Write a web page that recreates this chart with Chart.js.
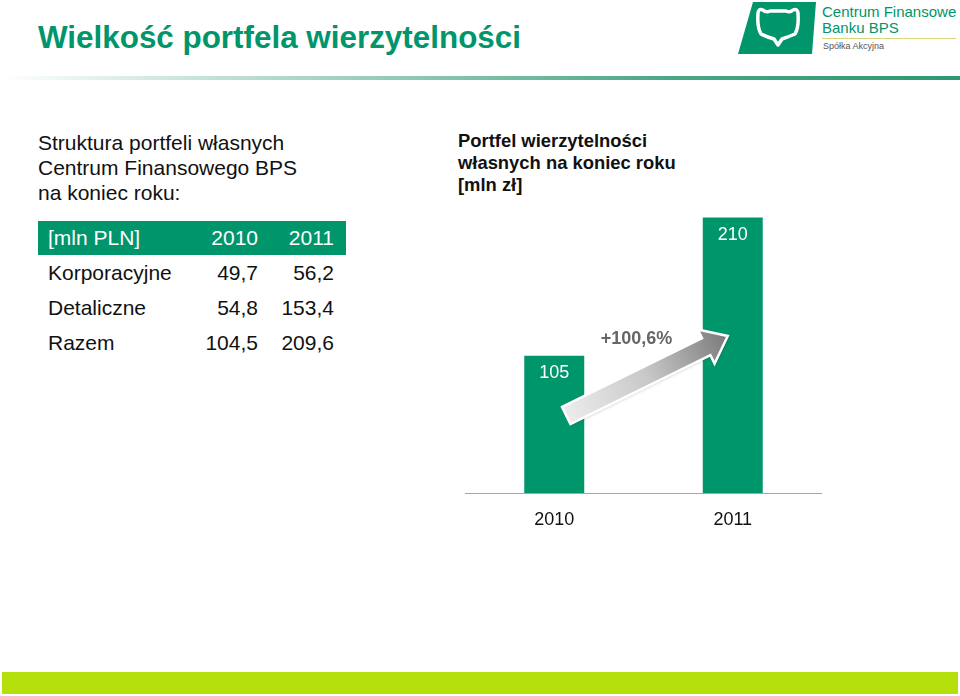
<!DOCTYPE html>
<html>
<head>
<meta charset="utf-8">
<script src="https://cdn.jsdelivr.net/npm/chart.js@4/dist/chart.umd.min.js"></script>
<style>
  body { margin: 0; width: 960px; height: 696px; background: #fff; position: relative; overflow: hidden;
         font-family: "Liberation Sans", Arial, sans-serif; }
  .abs { position: absolute; }
  #title { left: 38px; top: 20px; font-size: 31.4px; font-weight: bold; color: #00956b; white-space: nowrap; }
  #rule { left: 0; top: 76px; width: 960px; height: 4px;
          background: linear-gradient(to right, rgba(255,255,255,0) 0%, #c8e4d8 20%, #4aa784 70%, #2c9870 100%); }
  #intro { left: 38px; top: 130px; font-size: 21px; line-height: 25px; color: #111; }
  #chartTitle { left: 458px; top: 130px; font-size: 18.4px; line-height: 22px; font-weight: bold; color: #111; }
  table { left: 38px; top: 221px; border-collapse: collapse; font-size: 21px; color: #111; }
  th { background: #00956b; color: #fff; font-weight: normal; height: 34px; padding: 0; }
  td { height: 35px; padding: 0; }
  .c0 { width: 150px; text-align: left; padding-left: 10px; }
  .c1 { width: 60px; text-align: right; }
  .c2 { width: 76px; text-align: right; padding-right: 12px; }
  #chartWrap { left: 465px; top: 200px; }
  #bottomBar { left: 2px; top: 672px; width: 956px; height: 22px; background: #b4df0a; }
  #logoText1 { left: 822px; top: 4px; font-size: 15px; line-height: 16px; color: #00956b; white-space: nowrap; }
  #logoRule { left: 822px; top: 38px; width: 134px; height: 1px; background: #d6d67a; }
  #logoText2 { left: 823px; top: 41px; font-size: 9px; color: #555; }
</style>
</head>
<body>
<div id="title" class="abs">Wielkość portfela wierzytelności</div>
<div id="rule" class="abs"></div>

<svg class="abs" style="left:736px;top:0px" width="84" height="56">
  <polygon points="17,2 80,2 76,54 2,54" fill="#00956b"/>
  <path d="M22,14 Q22,8 27,10 Q30,13 34,11 L50,11 Q54,13 57,10 Q62,8 62,14 Q63,27 59,34 Q52,37 46,39 L42,45 L38,39 Q31,37 25,34 Q21,27 22,14 Z"
        fill="none" stroke="#fff" stroke-width="3.5" stroke-linejoin="round"/>
</svg>
<div id="logoText1" class="abs">Centrum Finansowe<br>Banku BPS</div>
<div id="logoRule" class="abs"></div>
<div id="logoText2" class="abs">Spółka Akcyjna</div>

<div id="intro" class="abs">Struktura portfeli własnych<br>Centrum Finansowego BPS<br>na koniec roku:</div>
<div id="chartTitle" class="abs">Portfel wierzytelności<br>własnych na koniec roku<br>[mln zł]</div>

<table id="tbl" class="abs"></table>

<div id="chartWrap" class="abs"><canvas id="chart" width="357" height="340"></canvas></div>
<div id="bottomBar" class="abs"></div>

<script>
// table data
const tableUnit = '[mln PLN]';
const tableYears = ['2010', '2011'];
const tableRows = ['Korporacyjne', 'Detaliczne', 'Razem'];
const values2010 = [49.7, 54.8, 104.5];
const values2011 = [56.2, 153.4, 209.6];

// chart data
const years = ['2010', '2011'];
const portfolioTotal = [104.5, 209.6];
const barLabels = ['105', '210'];
const growthLabel = '+100,6%';

const green = '#00966b';

function fmt(v) { return v.toFixed(1).replace('.', ','); }

const tbl = document.getElementById('tbl');
let html = '<tr><th class="c0">' + tableUnit + '</th><th class="c1">' + tableYears[0] +
           '</th><th class="c2">' + tableYears[1] + '</th></tr>';
tableRows.forEach((name, i) => {
  html += '<tr><td class="c0">' + name + '</td><td class="c1">' + fmt(values2010[i]) +
          '</td><td class="c2">' + fmt(values2011[i]) + '</td></tr>';
});
tbl.innerHTML = html;

// value labels, growth arrow and percentage
const overlay = {
  id: 'overlay',
  afterDatasetsDraw(chart) {
    const ctx = chart.ctx;
    const meta = chart.getDatasetMeta(0);
    const yScale = chart.scales.y;

    ctx.save();
    ctx.font = '18px "Liberation Sans", Arial, sans-serif';
    ctx.fillStyle = '#fff';
    ctx.textAlign = 'center';
    ctx.textBaseline = 'middle';
    meta.data.forEach((bar, i) => {
      ctx.fillText(barLabels[i], bar.x, bar.y + 17);
    });

    // arrow from first bar to second
    const x0 = meta.data[0].x + 12, y0 = yScale.getPixelForValue(59);
    const x1 = meta.data[1].x - 5, y1 = yScale.getPixelForValue(119.5);
    const ang = Math.atan2(y1 - y0, x1 - x0);
    const len = Math.hypot(x1 - x0, y1 - y0);
    const shaftW = 19, headW = 38, headL = 24;
    ctx.translate(x0, y0);
    ctx.rotate(ang);
    const grad = ctx.createLinearGradient(0, 0, len, 0);
    grad.addColorStop(0, '#ececec');
    grad.addColorStop(0.5, '#c8c8c8');
    grad.addColorStop(1, '#7a7a7a');
    ctx.beginPath();
    ctx.moveTo(0, -shaftW / 2);
    ctx.lineTo(len - headL, -shaftW / 2);
    ctx.lineTo(len - headL, -headW / 2);
    ctx.lineTo(len, 0);
    ctx.lineTo(len - headL, headW / 2);
    ctx.lineTo(len - headL, shaftW / 2);
    ctx.lineTo(0, shaftW / 2);
    ctx.closePath();
    ctx.shadowColor = 'rgba(0,0,0,0.25)';
    ctx.shadowBlur = 3;
    ctx.shadowOffsetX = 1;
    ctx.shadowOffsetY = 1;
    ctx.fillStyle = grad;
    ctx.fill();
    ctx.shadowColor = 'transparent';
    ctx.lineWidth = 2.5;
    ctx.strokeStyle = '#fff';
    ctx.lineJoin = 'miter';
    ctx.stroke();
    ctx.restore();

    ctx.save();
    ctx.font = 'bold 18px "Liberation Sans", Arial, sans-serif';
    ctx.fillStyle = '#666';
    ctx.textAlign = 'center';
    ctx.textBaseline = 'middle';
    ctx.fillText(growthLabel, (meta.data[0].x + meta.data[1].x) / 2 - 7, yScale.getPixelForValue(119.5) + 3);
    ctx.restore();
  }
};

new Chart(document.getElementById('chart'), {
  type: 'bar',
  data: {
    labels: years,
    datasets: [{
      data: portfolioTotal,
      backgroundColor: green,
      borderWidth: 0,
      categoryPercentage: 1,
      barPercentage: 0.336
    }]
  },
  options: {
    responsive: false,
    animation: false,
    layout: { padding: 0 },
    plugins: { legend: { display: false }, tooltip: { enabled: false } },
    scales: {
      x: {
        grid: { display: false, drawTicks: false },
        border: { display: true, color: '#a6a6a6', width: 1 },
        ticks: { color: '#111', padding: 16, font: { size: 18, family: '"Liberation Sans", Arial, sans-serif' } },
        afterFit: (scale) => { scale.height = 47; }
      },
      y: { display: false, min: 0, max: 223 }
    }
  },
  plugins: [overlay]
});
</script>
</body>
</html>
